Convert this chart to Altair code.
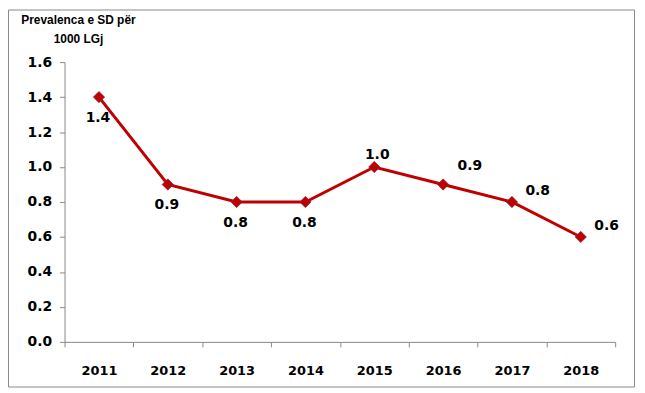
import altair as alt
import pandas as pd

years = ["2011", "2012", "2013", "2014", "2015", "2016", "2017", "2018"]
values = [1.4, 0.9, 0.8, 0.8, 1.0, 0.9, 0.8, 0.6]
label_pos = ["below", "below", "below", "below", "above", "upperright", "right", "right"]
title_lines = ["Prevalenca e SD për", "1000 LGj"]

df = pd.DataFrame({"year": years, "value": values, "pos": label_pos,
                   "label": [f"{v:.1f}" for v in values]})

FONT = "DejaVu Sans"
TFONT = "Liberation Sans"
RED = "#C00000"

x = alt.X("year:N", title=None, sort=years,
          scale=alt.Scale(paddingInner=0, paddingOuter=0),
          axis=alt.Axis(labelAngle=0, labelFont=FONT, labelFontWeight="bold",
                        labelFontSize=13, labelColor="black", labelPadding=18,
                        tickBand="extent", tickSize=5, tickColor="#888888",
                        domainColor="#888888", grid=False))
y = alt.Y("value:Q", title=None,
          scale=alt.Scale(domain=[0, 1.6], nice=False),
          axis=alt.Axis(values=[0, 0.2, 0.4, 0.6, 0.8, 1.0, 1.2, 1.4, 1.6], format=".1f",
                        labelFont=FONT, labelFontWeight="bold", labelFontSize=14,
                        labelColor="black", labelPadding=8, tickSize=5,
                        tickColor="#888888", domainColor="#888888", grid=False))

base = alt.Chart(df)

border = alt.Chart(pd.DataFrame({"a": [0]})).mark_rect(
    fill=None, stroke="#888888", strokeWidth=1
).encode(x=alt.value(-56.5), x2=alt.value(574.5), y=alt.value(-52.5), y2=alt.value(327.5))

title_df = pd.DataFrame({"t": title_lines, "i": [0, 1]})
title1 = alt.Chart(title_df).transform_filter(alt.datum.i == 0).mark_text(
    font=TFONT, fontSize=12, fontWeight="bold", color="black", align="center",
    baseline="alphabetic"
).encode(text="t:N", x=alt.value(14), y=alt.value(-38))
title2 = alt.Chart(title_df).transform_filter(alt.datum.i == 1).mark_text(
    font=TFONT, fontSize=12, fontWeight="bold", color="black", align="center",
    baseline="alphabetic"
).encode(text="t:N", x=alt.value(14), y=alt.value(-19))

line = base.mark_line(color=RED, strokeWidth=3).encode(x=x, y=y)
pts = base.mark_point(shape="diamond", filled=True, color=RED, size=130, opacity=1,
                      stroke="#7a3050", strokeWidth=0.7).encode(x=x, y=y)

def lab(pos, dx, dy):
    return base.transform_filter(alt.datum.pos == pos).mark_text(
        font=FONT, fontWeight="bold", fontSize=14, color="black", dx=dx, dy=dy
    ).encode(x=x, y=y, text="label:N")

chart = alt.layer(
    border, title1, title2, line, pts,
    lab("below", -1, 21), lab("above", 3, -12),
    lab("upperright", 27, -19), lab("right", 26, -11),
).properties(
    width=555, height=282,
    autosize=alt.AutoSizeParams(type="none"),
    padding={"left": 57, "top": 53, "right": 22, "bottom": 48},
).configure_view(stroke=None)

chart.save("out.html", embed_options={"renderer": "svg", "actions": False})
